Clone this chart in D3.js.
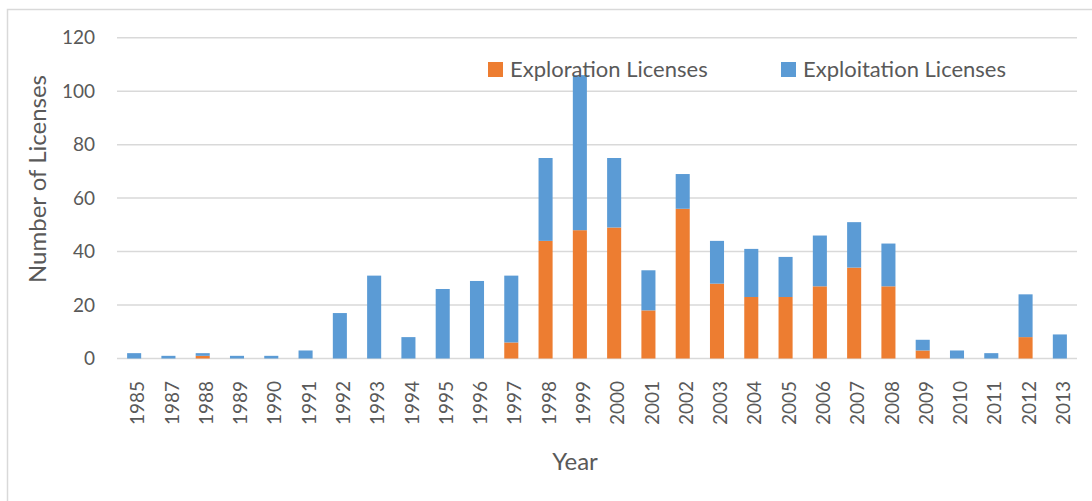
<!DOCTYPE html>
<html>
<head>
<meta charset="utf-8">
<script src="https://cdn.jsdelivr.net/npm/d3@7"></script>
<style>
  html, body { margin: 0; padding: 0; background: #fff; }
  svg { display: block; }
  text { font-family: Lato, "Open Sans", sans-serif; fill: #595959; }
</style>
</head>
<body>
<svg id="chart" width="1092" height="501"></svg>
<script>
// Licenses granted per year
const years = ["1985","1987","1988","1989","1990","1991","1992","1993","1994","1995",
  "1996","1997","1998","1999","2000","2001","2002","2003","2004","2005",
  "2006","2007","2008","2009","2010","2011","2012","2013"];
const exploration = [0,0,1,0,0,0,0,0,0,0, 0,6,44,48,49,18,56,28,23,23, 27,34,27,3,0,0,8,0];
const exploitation = [2,1,1,1,1,3,17,31,8,26, 29,25,31,58,26,15,13,16,18,15, 19,17,16,4,3,2,16,9];
const seriesNames = ["Exploration Licenses", "Exploitation Licenses"];
const seriesColors = ["#ED7D31", "#5B9BD5"];
const yTicks = [0, 20, 40, 60, 80, 100, 120];

const svg = d3.select("#chart");
const plotLeft = 117, plotRight = 1077, plotTop = 37.7, plotBottom = 358.5;

// outer chart frame
svg.append("rect")
  .attr("x", 7.5).attr("y", 9.5)
  .attr("width", 1200).attr("height", 600)
  .attr("fill", "none").attr("stroke", "#d9d9d9").attr("stroke-width", 1.5);

const x = d3.scaleBand().domain(years).range([plotLeft, plotRight])
  .paddingInner(0.59).paddingOuter(0.295);
const y = d3.scaleLinear().domain([0, 120]).range([plotBottom, plotTop]);

// gridlines
svg.append("g").selectAll("line").data(yTicks).join("line")
  .attr("x1", plotLeft).attr("x2", plotRight)
  .attr("y1", d => y(d)).attr("y2", d => y(d))
  .attr("stroke", "#d9d9d9").attr("stroke-width", 1.5);

// y tick labels
svg.append("g").selectAll("text").data(yTicks).join("text")
  .attr("x", 95).attr("y", d => y(d)).attr("dy", "0.35em")
  .attr("text-anchor", "end").style("font-size", "19px")
  .text(d => d);

// stacked bars
const rows = years.map((yr, i) => ({ year: yr, exploration: exploration[i], exploitation: exploitation[i] }));
const stack = d3.stack().keys(["exploration", "exploitation"])(rows);
svg.append("g").selectAll("g").data(stack).join("g")
  .attr("fill", (d, i) => seriesColors[i])
  .selectAll("rect").data(d => d).join("rect")
  .attr("x", d => x(d.data.year))
  .attr("width", x.bandwidth())
  .attr("y", d => y(d[1]))
  .attr("height", d => y(d[0]) - y(d[1]));

// x tick labels (rotated)
svg.append("g").selectAll("text").data(years).join("text")
  .attr("transform", d => `translate(${x(d) + x.bandwidth() / 2 + 3.5},381) rotate(-90)`)
  .attr("dy", "0.35em")
  .attr("text-anchor", "end").style("font-size", "19px")
  .text(d => d);

// axis titles
svg.append("text").attr("x", 575).attr("y", 470)
  .attr("text-anchor", "middle").style("font-size", "24px").text("Year");
svg.append("text")
  .attr("transform", "translate(46,179) rotate(-90)")
  .attr("text-anchor", "middle").style("font-size", "24px").text("Number of Licenses");

// legend
const legendX = [488, 781];
const lg = svg.append("g").selectAll("g").data(seriesNames).join("g")
  .attr("transform", (d, i) => `translate(${legendX[i]},62)`);
lg.append("rect").attr("width", 15).attr("height", 15).attr("fill", (d, i) => seriesColors[i]);
lg.append("text").attr("x", 22).attr("y", 15).style("font-size", "22px").text(d => d);
</script>
</body>
</html>
